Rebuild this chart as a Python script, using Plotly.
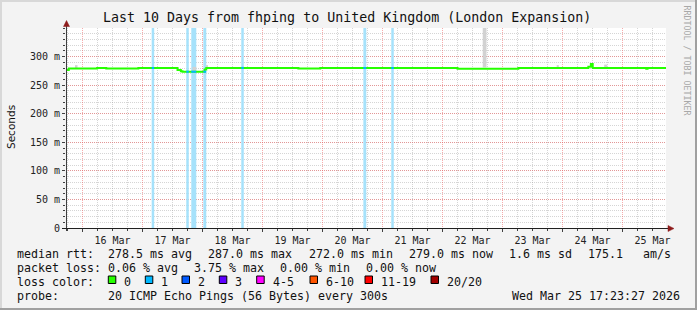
import plotly.graph_objects as go
import pandas as pd

# ---------------- data ----------------
t_first = "2026-03-15 17:23:27"
t_last = "2026-03-25 17:23:27"

# median rtt (ms), step series: value holds from each time until the next
med_time = ["2026-03-15 17:23:27", "2026-03-15 18:30", "2026-03-16 05:50", "2026-03-16 09:30",
            "2026-03-16 22:20", "2026-03-17 14:00", "2026-03-17 15:20", "2026-03-17 16:00",
            "2026-03-18 00:50", "2026-03-18 01:30", "2026-03-19 14:20", "2026-03-19 23:05",
            "2026-03-22 06:00", "2026-03-23 06:20", "2026-03-24 10:20", "2026-03-24 11:20",
            "2026-03-24 12:05", "2026-03-25 09:30", "2026-03-25 10:00", "2026-03-25 17:23:27"]
med_ms = [276.5, 279.3, 280.2, 279.3, 280.0, 276.5, 274.5, 273.5, 277.3, 280.2, 279.2, 280.0,
          278.8, 279.8, 282.0, 287.0, 280.0, 278.5, 279.8, 279.8]

# periods with 1/20 packet loss
loss_start = ["2026-03-17 03:40", "2026-03-17 17:30", "2026-03-17 19:30", "2026-03-18 00:20",
              "2026-03-18 15:30", "2026-03-20 16:20", "2026-03-21 03:30"]
loss_end = ["2026-03-17 04:40", "2026-03-17 18:30", "2026-03-17 21:30", "2026-03-18 01:30",
            "2026-03-18 16:30", "2026-03-20 17:30", "2026-03-21 04:30"]

# smoke (ping spread) visible above the median line
smoke_start = ["2026-03-15 21:00", "2026-03-17 20:00", "2026-03-18 01:20", "2026-03-22 16:05",
               "2026-03-23 21:40", "2026-03-24 16:40"]
smoke_end = ["2026-03-15 22:00", "2026-03-17 21:30", "2026-03-18 02:10", "2026-03-22 17:35",
             "2026-03-23 22:30", "2026-03-24 17:50"]
smoke_lo = [280, 273, 280, 281, 280, 280]
smoke_hi = [285, 282, 285, 350, 285, 286]

y_max = 350
y_tickvals = [0, 50, 100, 150, 200, 250, 300]
y_ticktext = ["0", "50 m", "100 m", "150 m", "200 m", "250 m", "300 m"]

loss_labels = ["0", "1", "2", "3", "4-5", "6-10", "11-19", "20/20"]
loss_colors = ["#26ff00", "#00b8ff", "#0059ff", "#5e00ff", "#ff00ff", "#ff5500", "#ff0000", "#a10000"]

title = "Last 10 Days from fhping to United Kingdom (London Expansion)"
row_rtt = ["median rtt:", "278.5 ms avg", "287.0 ms max", "272.0 ms min", "279.0 ms now",
           "1.6 ms sd", "175.1", "am/s"]
row_loss = ["packet loss:", "0.06 % avg", "3.75 % max", "0.00 % min", "0.00 % now"]
probe_label = "probe:"
probe_text = "20 ICMP Echo Pings (56 Bytes) every 300s"
stamp = "Wed Mar 25 17:23:27 2026"


def dt(v):
    return pd.to_datetime(pd.Series(v), format="mixed")


# ---------------- layout geometry (pixels) ----------------
W, H = 697, 310
L, R, T, B = 66, 666, 28, 228


def px(x):
    return (x - L) / (R - L)


def py(y):
    return (B - y) / (B - T)


MONO = "DejaVu Sans Mono"
TXT = "#111111"

fig = go.Figure()

# loss bars
ls = dt(loss_start)
le = dt(loss_end)
fig.add_trace(go.Bar(
    x=list(ls + (le - ls) / 2), y=[y_max] * len(ls), base=0,
    width=[(b - a).total_seconds() * 1000 for a, b in zip(ls, le)],
    marker=dict(color="#a6e2fb", line=dict(width=0)), hoverinfo="skip"))

# smoke
ss = dt(smoke_start)
se = dt(smoke_end)
fig.add_trace(go.Bar(
    x=list(ss + (se - ss) / 2), y=[h - l for l, h in zip(smoke_lo, smoke_hi)], base=smoke_lo,
    width=[(b - a).total_seconds() * 1000 for a, b in zip(ss, se)],
    marker=dict(color="#d2d2d2", line=dict(width=0)), hoverinfo="skip"))

# median line
mt = dt(med_time)
fig.add_trace(go.Scatter(x=list(mt), y=med_ms, mode="lines", line_shape="hv",
                         line=dict(color="#26ff00", width=2), hoverinfo="skip"))

# median coloured by loss during loss periods
sx, sy = [], []
for a, b in zip(ls, le):
    idx = max(i for i in range(len(mt)) if mt[i] <= a)
    sx += [a, b, None]
    sy += [med_ms[idx], med_ms[idx], None]
fig.add_trace(go.Scatter(x=sx, y=sy, mode="lines", line=dict(color="#00b8ff", width=2),
                         hoverinfo="skip"))

shapes = []
annotations = []

# frame
shapes += [
    dict(type="rect", xref="paper", yref="paper", x0=px(0), x1=px(2), y0=py(H), y1=py(0),
         fillcolor="#d8d8d8", line=dict(width=0), layer="above"),
    dict(type="rect", xref="paper", yref="paper", x0=px(0), x1=px(W), y0=py(2), y1=py(0),
         fillcolor="#d8d8d8", line=dict(width=0), layer="above"),
    dict(type="rect", xref="paper", yref="paper", x0=px(W - 2), x1=px(W), y0=py(H), y1=py(0),
         fillcolor="#a0a0a0", line=dict(width=0), layer="above"),
    dict(type="rect", xref="paper", yref="paper", x0=px(0), x1=px(W), y0=py(H), y1=py(H - 2),
         fillcolor="#a0a0a0", line=dict(width=0), layer="above"),
]

# axis lines + arrows
shapes += [
    dict(type="line", xref="paper", yref="paper", x0=px(66.5), x1=px(66.5), y0=py(231), y1=py(25),
         line=dict(color="#404040", width=1), layer="above"),
    dict(type="line", xref="paper", yref="paper", x0=px(62), x1=px(669), y0=py(228.5), y1=py(228.5),
         line=dict(color="#202020", width=1), layer="above"),
    dict(type="path", xref="paper", yref="paper",
         path=f"M {px(66.5)},{py(20.5)} L {px(63.5)},{py(26.5)} L {px(69.5)},{py(26.5)} Z",
         fillcolor="#8e1c1c", line=dict(color="#8e1c1c", width=0.5), layer="above"),
    dict(type="path", xref="paper", yref="paper",
         path=f"M {px(674)},{py(228.5)} L {px(668)},{py(225.5)} L {px(668)},{py(231.5)} Z",
         fillcolor="#8e1c1c", line=dict(color="#8e1c1c", width=0.5), layer="above"),
]


def text(x, y, s, size=11.63, anchor="left", color=TXT, font=MONO, angle=0):
    annotations.append(dict(xref="paper", yref="paper", x=px(x), y=py(y), text=s, showarrow=False,
                            xanchor=anchor, yanchor="middle", borderpad=0, textangle=angle,
                            font=dict(family=font, size=size, color=color)))


text(347, 18, title, size=13.3, anchor="center")
text(11, 127, "Seconds", size=10.5, anchor="center", font="DejaVu Sans", angle=-90)
text(686.5, 60, "RRDTOOL / TOBI OETIKER", size=8.3, anchor="center", color="#a8a8a8", angle=90)

rtt_x = [16, 107, 207.3, 307.6, 407.6, 507.8, 587, 642]
for x, s in zip(rtt_x, row_rtt):
    text(x, 254, s)
loss_x = [16, 107, 192.7, 279, 365]
for x, s in zip(loss_x, row_loss):
    text(x, 268, s)
text(16, 282, "loss color:")
sq_x = [108.3, 145.3, 182, 219.3, 256.7, 310, 365, 431]
for x, lab, col in zip(sq_x, loss_labels, loss_colors):
    shapes.append(dict(type="rect", xref="paper", yref="paper", x0=px(x), x1=px(x + 7.5),
                       y0=py(283.5), y1=py(276), fillcolor=col, line=dict(color="#000000", width=1),
                       layer="above"))
    text(x + 15, 282, lab)
text(16, 296, probe_label)
text(107, 296, probe_text)
text(681, 296, stamp, anchor="right")

grid_major = "rgba(240,90,90,0.5)"
grid_minor = "rgba(150,150,150,0.4)"

fig.update_layout(
    width=W, height=H, margin=dict(l=L, r=W - R, t=T, b=H - B),
    paper_bgcolor="#f3f3f3", plot_bgcolor="#ffffff",
    showlegend=False, barmode="overlay",
    shapes=shapes, annotations=annotations,
    xaxis=dict(type="date", range=[t_first, t_last], showline=False, zeroline=False,
               showgrid=True, gridcolor=grid_major, griddash="1px,1px", gridwidth=1,
               tick0="2026-03-16", dtick=86400000, tickformat="%d %b", ticklabelmode="period",
               ticks="outside", ticklen=3, tickcolor="#404040",
               tickfont=dict(family=MONO, size=10, color="#222222"),
               minor=dict(tick0="2026-03-16", dtick=21600000, showgrid=True, gridcolor=grid_minor,
                          griddash="1px,1px", ticks="outside", ticklen=2, tickcolor="#404040")),
    yaxis=dict(range=[0, y_max], showline=False, zeroline=False,
               tickvals=y_tickvals, ticktext=y_ticktext,
               showgrid=True, gridcolor=grid_major, griddash="1px,1px", gridwidth=1,
               ticks="outside", ticklen=3, tickcolor="#404040",
               tickfont=dict(family=MONO, size=10, color="#222222"),
               minor=dict(dtick=10, showgrid=True, gridcolor=grid_minor, griddash="1px,1px",
                          ticks="outside", ticklen=2, tickcolor="#404040")),
)

fig.write_html("out.html")
